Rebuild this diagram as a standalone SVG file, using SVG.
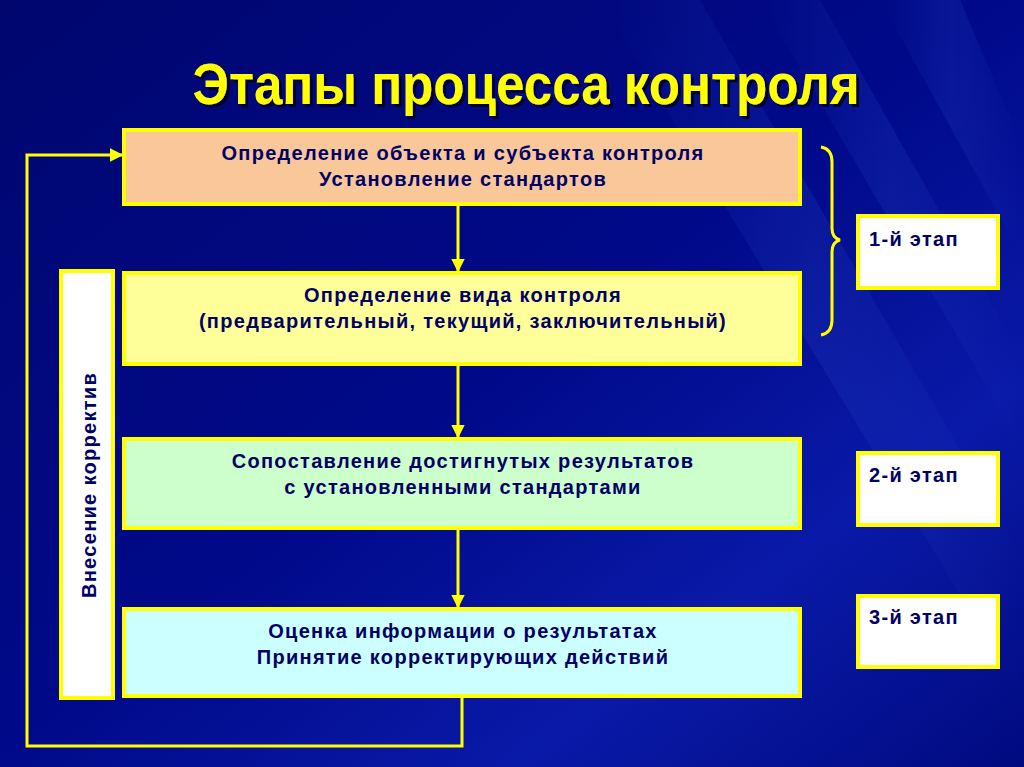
<svg xmlns="http://www.w3.org/2000/svg" width="1024" height="767" viewBox="0 0 1024 767">
<defs>
<linearGradient id="bg" x1="0" y1="0" x2="1" y2="1">
<stop offset="0" stop-color="#00066e"/>
<stop offset="0.5" stop-color="#000a8a"/>
<stop offset="0.75" stop-color="#0a1aa8"/>
<stop offset="1" stop-color="#000a80"/>
</linearGradient>
<linearGradient id="streak" x1="0" y1="0" x2="1" y2="0">
<stop offset="0" stop-color="#3050d0" stop-opacity="0"/>
<stop offset="0.5" stop-color="#3050d0" stop-opacity="0.25"/>
<stop offset="1" stop-color="#3050d0" stop-opacity="0"/>
</linearGradient>
<filter id="sh" x="-5%" y="-20%" width="110%" height="140%">
<feDropShadow dx="3" dy="3" stdDeviation="0.5" flood-color="#000020" flood-opacity="0.9"/>
</filter>
<marker id="arr" viewBox="0 0 10 10" refX="9" refY="5" markerWidth="4.5" markerHeight="4.5" orient="auto" markerUnits="strokeWidth">
<path d="M0,0 L10,5 L0,10 z" fill="#ffff00"/>
</marker>
<style>
.box{stroke:#ffff00;stroke-width:4}
.t{font-family:"Liberation Sans",Arial,sans-serif;font-weight:bold;font-size:20px;letter-spacing:1.3px;fill:#000066;text-anchor:middle}
.s{font-family:"Liberation Sans",Arial,sans-serif;font-weight:bold;font-size:20px;letter-spacing:1.3px;fill:#000066}
.c{fill:none;stroke:#ffff00;stroke-width:3}
</style>
</defs>
<rect width="1024" height="767" fill="url(#bg)"/>
<g opacity="0.8">
<polygon points="600,0 700,0 1024,560 1024,700" fill="url(#streak)"/>
<polygon points="760,0 820,0 1024,360 1024,450" fill="url(#streak)"/>
<polygon points="880,0 960,0 1024,150 1024,260" fill="url(#streak)"/>
</g>
<g id="title">
<text x="526" y="104" font-family="Liberation Sans,Arial,sans-serif" font-weight="bold" font-size="57" fill="#ffff00" text-anchor="middle" textLength="667" lengthAdjust="spacingAndGlyphs" filter="url(#sh)">Этапы процесса контроля</text>
</g>
<g id="connectors">
<line class="c" x1="458" y1="204" x2="458" y2="271" marker-end="url(#arr)"/>
<line class="c" x1="458" y1="364" x2="458" y2="437" marker-end="url(#arr)"/>
<line class="c" x1="458" y1="528" x2="458" y2="607" marker-end="url(#arr)"/>
<polyline class="c" points="462,696 462,746 27,746 27,155 122,155" marker-end="url(#arr)"/>
<path class="c" d="M821,147 Q832,149 832,162 L832,228 Q832,238 840,240 Q832,242 832,252 L832,320 Q832,333 821,335"/>
</g>
<g id="node1">
<rect class="box" x="124" y="130" width="676" height="74" fill="#fac898"/>
<text class="t" x="463" y="160">Определение объекта и субъекта контроля</text>
<text class="t" x="463" y="186">Установление стандартов</text>
</g>
<g id="node2">
<rect class="box" x="124" y="273" width="676" height="91" fill="#ffff99"/>
<text class="t" x="463" y="302">Определение вида контроля</text>
<text class="t" x="463" y="328">(предварительный, текущий, заключительный)</text>
</g>
<g id="node3">
<rect class="box" x="124" y="439" width="676" height="89" fill="#ccffcc"/>
<text class="t" x="463" y="468">Сопоставление достигнутых результатов</text>
<text class="t" x="463" y="494">с установленными стандартами</text>
</g>
<g id="node4">
<rect class="box" x="124" y="609" width="676" height="87" fill="#ccffff"/>
<text class="t" x="463" y="638">Оценка информации о результатах</text>
<text class="t" x="463" y="664">Принятие корректирующих действий</text>
</g>
<g id="side">
<rect class="box" x="61" y="271" width="52" height="427" fill="#ffffff"/>
<text class="t" transform="translate(96,485) rotate(-90)">Внесение корректив</text>
</g>
<g id="stage1">
<rect class="box" x="858" y="216" width="140" height="72" fill="#ffffff"/>
<text class="s" x="869" y="246">1-й этап</text>
</g>
<g id="stage2">
<rect class="box" x="858" y="453" width="140" height="72" fill="#ffffff"/>
<text class="s" x="869" y="482">2-й этап</text>
</g>
<g id="stage3">
<rect class="box" x="858" y="596" width="140" height="71" fill="#ffffff"/>
<text class="s" x="869" y="624">3-й этап</text>
</g>
</svg>
